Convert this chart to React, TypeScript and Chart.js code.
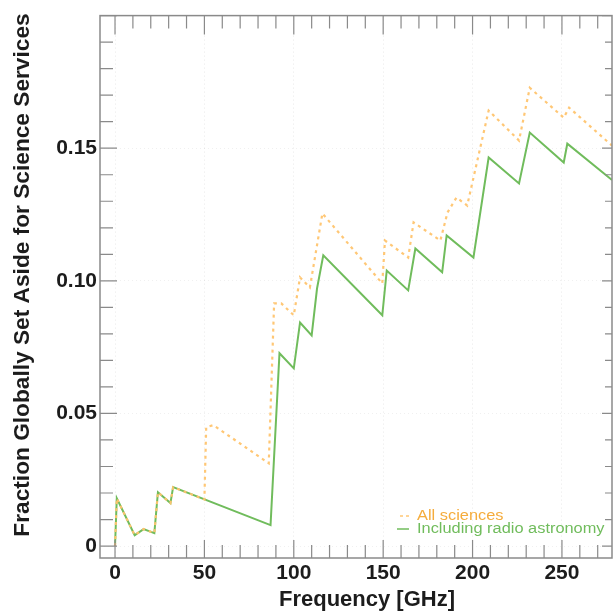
import React, { useEffect, useRef } from 'react';
import { Chart, registerables } from 'chart.js';

Chart.register(...registerables);

// Frequency [GHz] and fraction values
const radioFreq = [0, 1, 11, 16, 22, 24, 31, 32.5, 87, 92, 100, 103.5, 110, 113, 116.5, 149.5, 152, 164, 168, 183, 185.5, 200.5, 209, 226, 232, 251, 253, 278];
const radioFrac = [0, 0.018, 0.0041, 0.0064, 0.0049, 0.0203, 0.0162, 0.0222, 0.0079, 0.0727, 0.067, 0.0843, 0.0794, 0.0971, 0.1096, 0.087, 0.1039, 0.0964, 0.1122, 0.1032, 0.1171, 0.1088, 0.1465, 0.1367, 0.1559, 0.1446, 0.1517, 0.138];

const allFreq = [0, 1, 11, 16, 22, 24, 31, 32.5, 50, 51, 55, 86, 89, 93, 100, 103.5, 109, 116, 149.5, 151, 164, 167, 182, 186, 191, 197, 209, 226, 232, 251, 254, 278];
const allFrac = [0, 0.018, 0.0041, 0.0064, 0.0049, 0.0203, 0.0162, 0.0222, 0.0176, 0.0448, 0.0456, 0.0312, 0.0915, 0.0915, 0.087, 0.1013, 0.0975, 0.1254, 0.099, 0.1152, 0.1088, 0.122, 0.1152, 0.1258, 0.1314, 0.1284, 0.1642, 0.1529, 0.1728, 0.1615, 0.1653, 0.151];

const xMajorTicks = [0, 50, 100, 150, 200, 250];
const yMajorTicks = [0, 0.05, 0.1, 0.15];
const yTickLabels = ['0', '0.05', '0.10', '0.15'];
const seriesLabels = ['All sciences', 'Including radio astronomy'];
const xTitle = 'Frequency [GHz]';
const yTitle = 'Fraction Globally Set Aside for Science Services';

const ORANGE_LINE = 'rgba(255,196,110,0.95)';
const ORANGE_TEXT = 'rgb(245,172,60)';
const GREEN = 'rgb(112,188,92)';
const FRAME = '#8a8a8a';
const FONT = '"Liberation Sans", Arial, Helvetica, sans-serif';

const framePlugin = {
  id: 'idlFrame',
  afterDraw(chart: any) {
    const { ctx, chartArea } = chart;
    const xs = chart.scales.x;
    const ys = chart.scales.y;
    const { left, right, top, bottom } = chartArea;
    ctx.save();
    ctx.strokeStyle = FRAME;
    ctx.lineWidth = 1.5;
    ctx.strokeRect(left, top, right - left, bottom - top);
    ctx.lineWidth = 1.2;
    // x ticks every 10 GHz
    for (let i = 0; i <= 27; i++) {
      const v = i * 10;
      const px = xs.getPixelForValue(v);
      if (px < left || px > right) continue;
      const major = v % 50 === 0;
      ctx.beginPath();
      ctx.moveTo(px, bottom);
      ctx.lineTo(px, bottom - (major ? 18 : 13));
      ctx.moveTo(px, top);
      ctx.lineTo(px, top + (major ? 19 : 13));
      ctx.stroke();
    }
    // y ticks every 0.01
    for (let i = 0; i <= 20; i++) {
      const v = i / 100;
      const py = ys.getPixelForValue(v);
      if (py < top || py > bottom) continue;
      const major = i % 5 === 0;
      ctx.beginPath();
      ctx.moveTo(left, py);
      ctx.lineTo(left + (major ? 17 : 13), py);
      ctx.moveTo(right, py);
      ctx.lineTo(right - (major ? 10 : 7), py);
      ctx.stroke();
    }
    // axis titles
    ctx.fillStyle = '#1c1c1c';
    ctx.textAlign = 'center';
    ctx.textBaseline = 'middle';
    ctx.font = `bold 22px ${FONT}`;
    ctx.fillText(xTitle, 367, 600);
    ctx.save();
    ctx.translate(23, 275);
    ctx.rotate(-Math.PI / 2);
    ctx.font = `bold 22.7px ${FONT}`;
    ctx.fillText(yTitle, 0, 0);
    ctx.restore();
    // legend
    const ds = chart.data.datasets;
    const rows = [
      { y: 516, x0: 400, color: ORANGE_LINE, text: ORANGE_TEXT, dash: [3, 3], label: ds[0].label },
      { y: 529, x0: 397, color: GREEN, text: GREEN, dash: [], label: ds[1].label },
    ];
    ctx.font = `14px ${FONT}`;
    ctx.textAlign = 'left';
    rows.forEach((r) => {
      ctx.strokeStyle = r.color;
      ctx.lineWidth = 1.5;
      ctx.setLineDash(r.dash);
      ctx.beginPath();
      ctx.moveTo(r.x0, r.y);
      ctx.lineTo(409, r.y);
      ctx.stroke();
      ctx.setLineDash([]);
      ctx.fillStyle = r.text;
      ctx.save();
      ctx.translate(417, r.y);
      ctx.scale(1.17, 1);
      ctx.fillText(r.label, 0, 0);
      ctx.restore();
    });
    ctx.restore();
  },
};

export default function App() {
  const ref = useRef<HTMLCanvasElement | null>(null);
  useEffect(() => {
    const canvas = ref.current;
    if (!canvas) return;
    const chart = new Chart(canvas, {
      type: 'scatter',
      data: {
        datasets: [
          {
            label: seriesLabels[0],
            data: allFreq.map((f, i) => ({ x: f, y: allFrac[i] })),
            showLine: true,
            pointRadius: 0,
            borderColor: ORANGE_LINE,
            borderWidth: 2.2,
            borderDash: [3, 4],
            fill: false,
            tension: 0,
          },
          {
            label: seriesLabels[1],
            data: radioFreq.map((f, i) => ({ x: f, y: radioFrac[i] })),
            showLine: true,
            pointRadius: 0,
            borderColor: GREEN,
            borderWidth: 2,
            fill: false,
            tension: 0,
          },
        ],
      },
      options: {
        responsive: false,
        animation: false,
        devicePixelRatio: 1,
        layout: { padding: { top: 13, right: 3, left: 0, bottom: 0 } },
        plugins: { legend: { display: false }, tooltip: { enabled: false }, title: { display: false } },
        scales: {
          x: {
            type: 'linear',
            min: -8.4,
            max: 278,
            afterBuildTicks: (s: any) => {
              s.ticks = xMajorTicks.map((v) => ({ value: v }));
            },
            afterFit: (s: any) => {
              s.height = 54;
            },
            ticks: {
              autoSkip: false,
              maxRotation: 0,
              padding: 3,
              color: '#1c1c1c',
              font: { family: FONT, size: 21, weight: 'bold' },
              callback: (v: any) => String(v),
            },
            grid: { drawTicks: false, color: 'rgba(0,0,0,0.09)', lineWidth: 1 },
            border: { display: false, dash: [1, 3] },
          },
          y: {
            type: 'linear',
            min: -0.0045,
            max: 0.2,
            afterBuildTicks: (s: any) => {
              s.ticks = yMajorTicks.map((v) => ({ value: v }));
            },
            afterFit: (s: any) => {
              s.width = 100;
            },
            ticks: {
              padding: 3,
              color: '#1c1c1c',
              font: { family: FONT, size: 21, weight: 'bold' },
              callback: (_v: any, i: number) => yTickLabels[i],
            },
            grid: { drawTicks: false, color: 'rgba(0,0,0,0.06)', lineWidth: 1 },
            border: { display: false, dash: [1, 3] },
          },
        },
      } as any,
      plugins: [framePlugin],
    });
    return () => chart.destroy();
  }, []);
  return (
    <div style={{ position: 'fixed', left: 0, top: 0, width: 615, height: 612, background: '#fff' }}>
      <canvas ref={ref} width={615} height={612} />
    </div>
  );
}
